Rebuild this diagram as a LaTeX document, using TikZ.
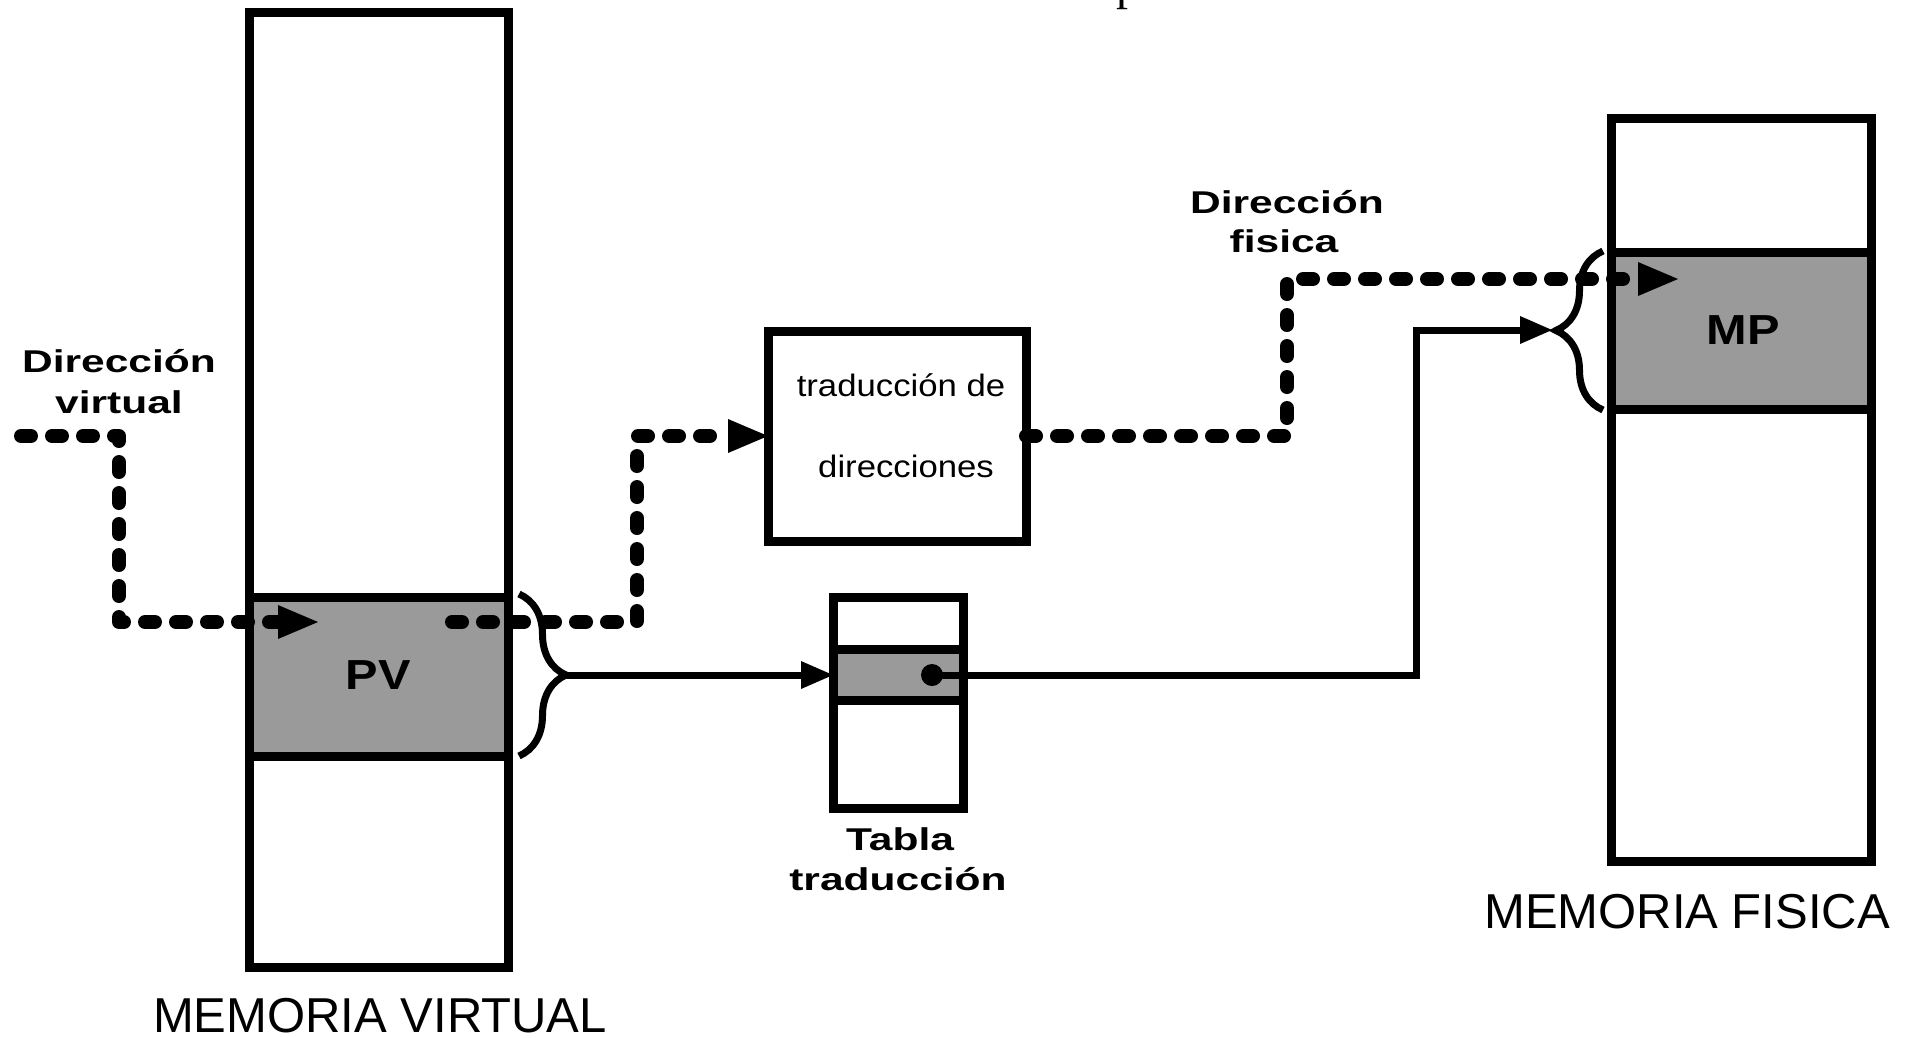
\documentclass[tikz,border=0pt]{standalone}
\usepackage{fontspec}
\setmainfont{Liberation Sans}
\newfontfamily\lblfont[FakeStretch=1.35]{Liberation Sans}
\newfontfamily\boxfont[FakeStretch=1.12]{Liberation Sans}
\newfontfamily\pgfont[FakeStretch=1.16]{Liberation Sans}
\newfontfamily\serfont{Liberation Serif}
\usetikzlibrary{arrows.meta,decorations.pathreplacing}
\definecolor{pagegray}{RGB}{154,154,154}
\begin{document}
\begin{tikzpicture}[x=1pt,y=-1pt,
  box/.style={draw=black, line width=9pt, inner sep=0pt, outer sep=0pt},
  shaded/.style={box, fill=pagegray},
  lbl/.style={font=\lblfont\bfseries\fontsize{31.5}{31.5}\selectfont, anchor=base, inner sep=0pt},
  boxtxt/.style={font=\boxfont\fontsize{31}{31}\selectfont, anchor=base, inner sep=0pt},
  pgtxt/.style={font=\pgfont\bfseries\fontsize{42}{42}\selectfont, anchor=base, inner sep=0pt},
  memtxt/.style={font=\fontsize{49}{49}\selectfont, anchor=base, inner sep=0pt},
  dotline/.style={line width=14pt, line cap=round, line join=round, dash pattern=on 10pt off 21pt, -{Triangle[length=40pt,width=34pt,line width=0pt]}},
  solidline/.style={line width=7pt, -{Triangle[length=32pt,width=28pt,line width=0pt]}},
  bracestyle/.style={line width=7pt, decorate, decoration={brace, amplitude=47pt}},
]
\useasboundingbox[fill=white] (0,0) rectangle (1917,1037);

% fragment of text cut at the top
\node[font=\serfont\fontsize{48}{48}\selectfont, anchor=base west, inner sep=0pt] (pfrag) at (1116,-1) {p};

% virtual memory
\node[box, minimum width=259pt, minimum height=955pt] (vm) at (378.5,489.5) {};
\node[shaded, minimum width=259pt, minimum height=159pt] (pv) at (378.5,676.5) {};
\node[pgtxt] (pvt) at (378,689) {PV};
\node[memtxt] (vmt) at (380,1032) {MEMORIA VIRTUAL};

% physical memory
\node[box, minimum width=260pt, minimum height=743pt] (pm) at (1741,489.5) {};
\node[shaded, minimum width=260pt, minimum height=157pt] (mp) at (1741,330.5) {};
\node[pgtxt] (mpt) at (1743,344) {MP};
\node[memtxt] (pmt) at (1687,928) {MEMORIA FISICA};

% address translation box
\node[box, minimum width=258pt, minimum height=210pt] (trad) at (897,436) {};
\node[boxtxt] (trad1) at (901,396) {traducción de};
\node[boxtxt] (trad2) at (906,477) {direcciones};

% translation table
\node[box, minimum width=130pt, minimum height=211pt] (tab) at (898,702.5) {};
\node[shaded, minimum width=130pt, minimum height=51pt] (trow) at (898,675) {};
\node[circle, fill=black, minimum size=22pt, inner sep=0pt] (dot) at (932,675) {};
\node[lbl] (tab1) at (900,850) {Tabla};
\node[lbl] (tab2) at (898,890) {traducción};

% labels
\node[lbl] (dv1) at (119,372) {Dirección};
\node[lbl] (dv2) at (119,413) {virtual};
\node[lbl] (df1) at (1287,213) {Dirección};
\node[lbl] (df2) at (1284,252) {fisica};

% braces
\draw[bracestyle] (519,594) -- (519,756);
\draw[bracestyle] (1603,410) -- (1603,251);
\coordinate (pvtip) at (566,675);
\coordinate (mptip) at (1552,330);
\coordinate (bend) at (1416,330);

% dotted address flow
\coordinate (dvstart) at (21,436);
\coordinate (pvin) at (318,622);
\coordinate (pvout) at (452,622);
\coordinate (mpin) at (1678,279);
\draw[dotline] (dvstart) -- (119,436) |- (pvin);
\draw[dotline] (pvout) -- (637,622) |- (trad.west);
\draw[dotline] (trad.east) -- (1287,436) |- (mpin);

% solid page flow
\draw[solidline] (pvtip) -- (trow.west);
\draw[solidline] (dot.center) -| (bend) -- (mptip);
\end{tikzpicture}
\end{document}
